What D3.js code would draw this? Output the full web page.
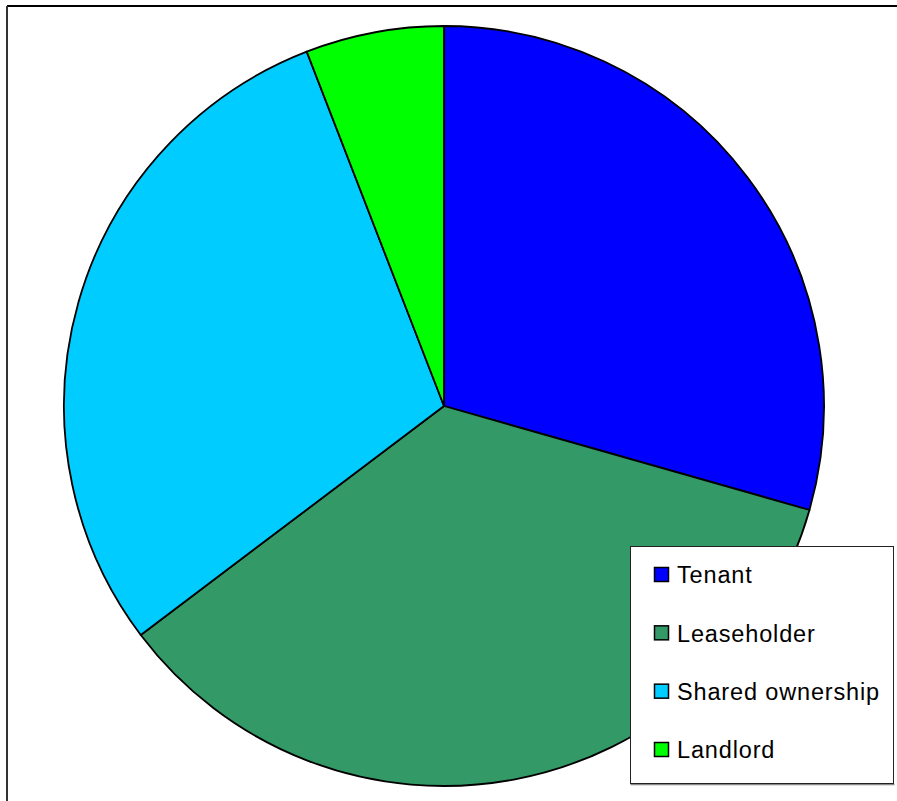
<!DOCTYPE html>
<html>
<head>
<meta charset="utf-8">
<script src="https://cdn.jsdelivr.net/npm/d3@7/dist/d3.min.js"></script>
<style>
  html, body { margin: 0; padding: 0; background: #fff; }
  svg { display: block; }
</style>
</head>
<body>
<script>
const categories = ["Tenant", "Leaseholder", "Shared ownership", "Landlord"];
const values = [5, 6, 5, 1];
const colors = ["#0000ff", "#339966", "#00ccff", "#00ff00"];

const W = 897, H = 801;
const svg = d3.select("body").append("svg").attr("width", W).attr("height", H);

// frame
svg.append("line").attr("x1", 7).attr("y1", 6).attr("x2", W).attr("y2", 6)
  .attr("stroke", "#000").attr("stroke-width", 2);
svg.append("line").attr("x1", 7).attr("y1", 6).attr("x2", 7).attr("y2", H)
  .attr("stroke", "#333").attr("stroke-width", 2);

const cx = 444, cy = 406, r = 380;
const data = categories.map((c, i) => ({ cat: c, value: values[i], color: colors[i] }));
const pie = d3.pie().value(d => d.value).sort(null).startAngle(0).endAngle(2 * Math.PI);
const arc = d3.arc().innerRadius(0).outerRadius(r);

const g = svg.append("g").attr("transform", `translate(${cx},${cy})`);
g.selectAll("path").data(pie(data)).join("path")
  .attr("d", arc)
  .attr("fill", d => d.data.color)
  .attr("stroke", "#000")
  .attr("stroke-width", 1.8)
  .attr("stroke-linejoin", "round");

// legend
const lx = 630.5, ly = 546.5, lw = 263, lh = 237;
svg.append("line").attr("x1", lx).attr("y1", ly + lh + 1).attr("x2", lx + lw + 1).attr("y2", ly + lh + 1)
  .attr("stroke", "#888").attr("stroke-width", 1.5);
svg.append("rect").attr("x", lx).attr("y", ly).attr("width", lw).attr("height", lh)
  .attr("fill", "#fff").attr("stroke", "#222").attr("stroke-width", 1);

const rowY = d3.scalePoint().domain(categories).range([575, 750]);
const items = svg.selectAll("g.leg").data(data).join("g").attr("class", "leg")
  .attr("transform", d => `translate(0,${rowY(d.cat)})`);
items.append("rect").attr("x", 654.5).attr("y", -7.5).attr("width", 14).attr("height", 14)
  .attr("fill", d => d.color).attr("stroke", "#000").attr("stroke-width", 1.5);
items.append("text").attr("x", 677).attr("y", 0).attr("dy", "0.36em")
  .attr("font-family", "'Liberation Sans', Arial, sans-serif")
  .attr("font-size", 23.5).attr("letter-spacing", 0.85)
  .attr("fill", "#000")
  .text(d => d.cat);
</script>
</body>
</html>
